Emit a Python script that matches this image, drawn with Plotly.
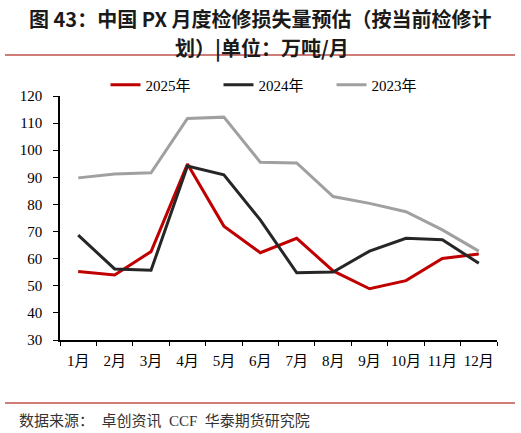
import plotly.graph_objects as go

# 中国PX月度检修损失量预估，单位：万吨/月
months = ["1月", "2月", "3月", "4月", "5月", "6月",
          "7月", "8月", "9月", "10月", "11月", "12月"]

y2025 = [55.3, 54.0, 62.6, 94.9, 72.0, 62.2, 67.5, 55.5, 48.9, 51.9, 60.1, 61.7]
y2024 = [68.7, 56.2, 55.7, 94.2, 90.9, 74.3, 54.8, 55.1, 62.8, 67.5, 67.0, 58.3]
y2023 = [89.8, 91.2, 91.7, 111.7, 112.2, 95.6, 95.3, 82.9, 80.4, 77.3, 70.6, 62.8]

serif = "Times New Roman, Liberation Serif, Noto Sans CJK SC, serif"
H = 244  # plot height in px, used for paper coords

fig = go.Figure()
fig.add_trace(go.Scatter(x=months, y=y2025, name="2025年", mode="lines",
                         line=dict(color="#C00000", width=3)))
fig.add_trace(go.Scatter(x=months, y=y2024, name="2024年", mode="lines",
                         line=dict(color="#262626", width=3)))
fig.add_trace(go.Scatter(x=months, y=y2023, name="2023年", mode="lines",
                         line=dict(color="#A0A0A0", width=3)))

fig.update_layout(
    width=521, height=433,
    margin=dict(l=60, r=24, t=96, b=93, autoexpand=False),
    paper_bgcolor="white", plot_bgcolor="white",
    font=dict(family=serif, size=15, color="black"),
    showlegend=True,
    legend=dict(orientation="h", x=0.492, xanchor="center", y=1 + 11 / H, yanchor="middle",
                font=dict(family=serif, size=15), entrywidth=68, tracegroupgap=0),
)

fig.update_xaxes(type="category", range=[-0.5, 11.5], showline=True, linecolor="black",
                 linewidth=1.5, ticks="outside", ticklen=4, tickson="boundaries",
                 tickangle=0, automargin=False, ticklabelstandoff=6,
                 tickcolor="black", showgrid=False, zeroline=False)
fig.update_yaxes(range=[30, 120], dtick=10, showline=True, linecolor="black",
                 linewidth=1.5, ticks="outside", ticklen=5, tickcolor="black",
                 automargin=False, ticklabelstandoff=8, showgrid=False, zeroline=False)

# 标题
title_font = dict(family="Noto Sans CJK SC", size=20, color="#1a1a1a")
fig.add_annotation(text="<b>图 43：中国 PX 月度检修损失量预估（按当前检修计</b>",
                   xref="paper", yref="paper", x=(260 - 60) / 437, y=(340 - 18) / H,
                   xanchor="center", yanchor="middle", showarrow=False, font=title_font)
fig.add_annotation(text="<b>划）|单位：万吨/月</b>",
                   xref="paper", yref="paper", x=(262 - 60) / 437, y=(340 - 47) / H,
                   xanchor="center", yanchor="middle", showarrow=False, font=title_font)
# 数据来源
fig.add_annotation(text="数据来源：  卓创资讯  CCF  华泰期货研究院",
                   xref="paper", yref="paper", x=(17 - 60) / 437, y=(340 - 420) / H,
                   xanchor="left", yanchor="middle", showarrow=False,
                   font=dict(family=serif, size=15, color="#333333"))

# 分隔红线
fig.add_shape(type="line", xref="paper", yref="paper", x0=-55 / 437, x1=1 + 18 / 437,
              y0=(340 - 55) / H, y1=(340 - 55) / H, line=dict(color="#C0504D", width=1.5))
fig.add_shape(type="line", xref="paper", yref="paper", x0=-55 / 437, x1=1 + 18 / 437,
              y0=(340 - 403) / H, y1=(340 - 403) / H, line=dict(color="#C0504D", width=1.5))

fig.write_html("out.html", config={"displayModeBar": False},
               post_script="document.body.style.margin='0px';")
